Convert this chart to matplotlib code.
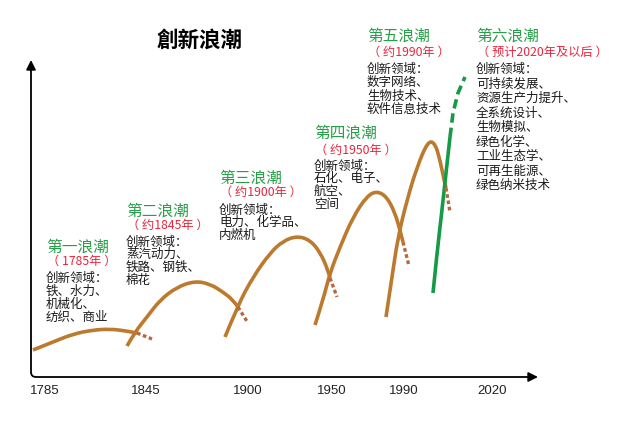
import matplotlib.pyplot as plt
from matplotlib.path import Path
from matplotlib.patches import PathPatch

plt.rcParams['font.family'] = ['Noto Sans CJK SC', 'DejaVu Sans']

# x axis labels (schematic, not linear in years)
years = ['1785', '1845', '1900', '1950', '1990', '2020']
year_pos = [45, 146, 248, 332, 404, 492]

# wave curves: horizontal position and level above the x axis
wave1_x = [33, 53, 73, 93, 110, 127, 137]
wave1_y = [27, 35, 43, 47, 48, 46, 44]
wave1_tail_x = [137, 142, 152]
wave1_tail_y = [44, 42, 38]

wave2_x = [127, 135, 147, 160, 177, 195, 210, 223, 233, 238]
wave2_y = [31, 45, 60, 77, 90, 96, 93, 85, 77, 70]
wave2_tail_x = [238, 248]
wave2_tail_y = [70, 54]

wave3_x = [225, 238, 253, 270, 283, 297, 310, 320, 328, 330]
wave3_y = [40, 72, 100, 124, 136, 141, 137, 125, 107, 99]
wave3_tail_x = [330, 337]
wave3_tail_y = [99, 80]

wave4_x = [315, 323, 330, 340, 353, 367, 377, 387, 395, 400, 403]
wave4_y = [52, 77, 104, 130, 160, 181, 186, 180, 164, 147, 135]
wave4_tail_x = [403, 409]
wave4_tail_y = [135, 111]

wave5_x = [386, 392, 398, 407, 417, 428, 435, 440, 444, 446]
wave5_y = [60, 100, 140, 177, 210, 236, 234, 217, 197, 189]
wave5_tail_x = [446, 450]
wave5_tail_y = [189, 165]

wave6_x = [433, 437, 442, 446, 450]
wave6_y = [84, 124, 167, 204, 240]
wave6_tail_x = [450, 453, 458, 465]
wave6_tail_y = [240, 264, 284, 300]

headings = ['第一浪潮', '第二浪潮', '第三浪潮', '第四浪潮', '第五浪潮', '第六浪潮']
periods = ['（ 1785年 ）', '（ 约1845年 ）', '（ 约1900年 ）', '（ 约1950年 ）', '（ 约1990年 ）',
           '（ 预计2020年及以后 ）']
fields = [
    ['创新领域：', '铁、水力、', '机械化、', '纺织、商业'],
    ['创新领域：', '蒸汽动力、', '铁路、钢铁、', '棉花'],
    ['创新领域：', '电力、化学品、', '内燃机'],
    ['创新领域：', '石化、电子、', '航空、', '空间'],
    ['创新领域：', '数字网络、', '生物技术、', '软件信息技术'],
    ['创新领域：', '可持续发展、', '资源生产力提升、', '全系统设计、', '生物模拟、',
     '绿色化学、', '工业生态学、', '可再生能源、', '绿色纳米技术'],
]

brown = '#bc7a2e'
tail_brown = '#b8683c'
green_line = '#159a45'
green_text = '#2a9f4a'
red_text = '#e8253c'


def smooth_curve(ax, xs, ys, **kw):
    # quadratic bezier through midpoints, the read points act as control points
    pts = list(zip(xs, ys))
    verts = [pts[0]]
    codes = [Path.MOVETO]
    for i in range(1, len(pts) - 2):
        mid = ((pts[i][0] + pts[i + 1][0]) / 2, (pts[i][1] + pts[i + 1][1]) / 2)
        verts += [pts[i], mid]
        codes += [Path.CURVE3, Path.CURVE3]
    verts += [pts[-2], pts[-1]]
    codes += [Path.CURVE3, Path.CURVE3]
    ax.add_patch(PathPatch(Path(verts, codes), fill=False, **kw))


fig = plt.figure(figsize=(6.24, 4.25), dpi=100)
ax = fig.add_axes([0, 0, 1, 1])
ax.set_xlim(0, 624)
ax.set_ylim(-48, 377)
ax.axis('off')

# axes with rounded corner and arrow heads
ax.annotate('', xy=(31, 317), xytext=(538, 0),
            arrowprops=dict(arrowstyle='<|-|>', connectionstyle='angle,angleA=0,angleB=90,rad=5',
                            color='black', lw=1.3, shrinkA=0, shrinkB=0, mutation_scale=14))

for pos, yr in zip(year_pos, years):
    ax.text(pos, -14, yr, ha='center', va='center', fontsize=9.5,
            family=['Liberation Sans', 'DejaVu Sans'], color='#222222')

ax.text(200, 337, '創新浪潮', ha='center', va='center', fontsize=15.5, fontweight='bold')

waves = [(wave1_x, wave1_y, wave1_tail_x, wave1_tail_y),
         (wave2_x, wave2_y, wave2_tail_x, wave2_tail_y),
         (wave3_x, wave3_y, wave3_tail_x, wave3_tail_y),
         (wave4_x, wave4_y, wave4_tail_x, wave4_tail_y),
         (wave5_x, wave5_y, wave5_tail_x, wave5_tail_y)]
for wx, wy, tx, ty in waves:
    smooth_curve(ax, wx, wy, edgecolor=brown, lw=2.6, capstyle='butt', joinstyle='round')
    ax.plot(tx, ty, color=tail_brown, lw=2.4, linestyle=(0, (1.1, 0.8)), dash_capstyle='butt')

smooth_curve(ax, wave6_x, wave6_y, edgecolor=green_line, lw=2.6, capstyle='butt')
ax.plot(wave6_tail_x, wave6_tail_y, color=green_line, lw=2.6, linestyle=(0, (2.6, 1.4)),
        dash_capstyle='butt')

# text blocks: x, heading level, period level, first field line level, line step
blocks = [(46, 130, 116, 99, 13.0),
          (126, 166, 152, 135, 12.7),
          (219, 199, 185, 167, 12.7),
          (314, 244, 227, 211, 12.7),
          (367, 341, 325, 308, 13.5),
          (476, 341, 325, 308, 14.6)]
for (x, hy, py, fy, step), h, p, lines in zip(blocks, headings, periods, fields):
    ax.text(x, hy, h, ha='left', va='center', fontsize=11.3, color=green_text)
    ax.text(x + 1, py, p, ha='left', va='center', fontsize=8.8, color=red_text)
    for i, line in enumerate(lines):
        ax.text(x, fy - i * step, line, ha='left', va='center', fontsize=9, color='#1a1a1a')

fig.savefig('out.png', dpi=100)
